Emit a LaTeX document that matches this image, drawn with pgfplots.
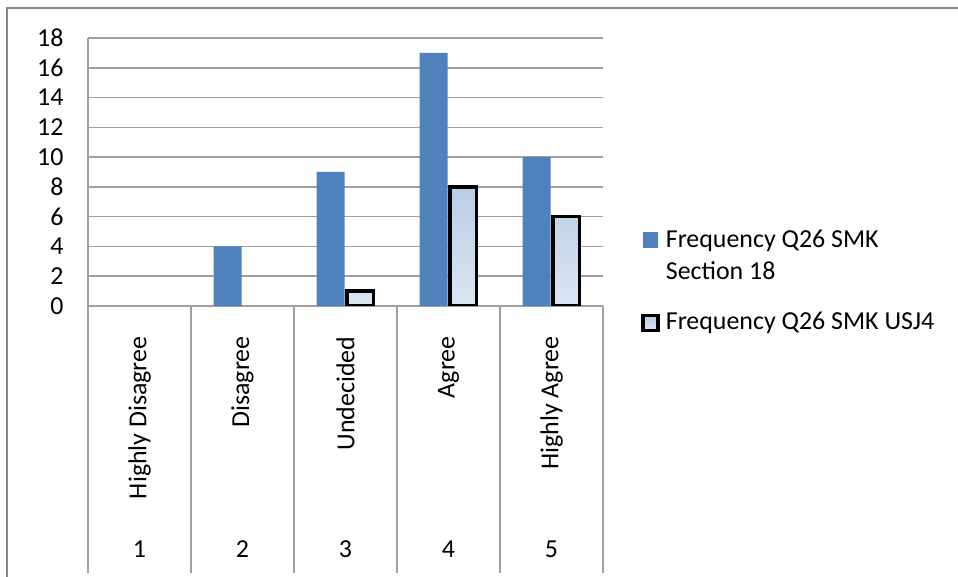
\documentclass[border=0pt]{standalone}
\usepackage{fontspec}
\setmainfont{Carlito}
\usepackage{pgfplots}
\pgfplotsset{compat=1.18}
\definecolor{barblue}{HTML}{4F81BD}
\definecolor{lighttop}{HTML}{B9CDE5}
\definecolor{lightbot}{HTML}{DCE6F2}
\definecolor{gridc}{HTML}{A0A0A0}
\definecolor{framec}{HTML}{888888}
\newcommand{\lblfont}{\fontsize{26}{32}\selectfont}
\begin{document}
\begin{tikzpicture}[x=1bp,y=1bp]
\useasboundingbox (0,0) rectangle (958,577);
\draw[framec, line width=2bp] (7,-5) -- (7,569) -- (965,569);
\begin{axis}[
  at={(88bp,271bp)}, anchor=south west,
  scale only axis, width=515bp, height=268bp,
  xmin=0.5, xmax=5.5, ymin=0, ymax=18,
  axis lines=left, axis line style={draw=gridc, line width=1.5bp, -},
  ytick={0,2,...,18},
  ymajorgrids, major grid style={draw=gridc, line width=1.5bp},
  xtick={1,...,5},
  xticklabels={Highly Disagree,Disagree,Undecided,Agree,Highly Agree},
  minor xtick={0.5,1.5,...,5.5},
  major tick length=0pt, minor tick length=267bp, tick align=outside,
  minor tick style={draw=gridc, line width=1.5bp},
  tick label style={font=\lblfont},
  /pgf/number format/assume math mode=true,
  x tick label style={rotate=90, anchor=east},
  xticklabel shift=27bp,
  yticklabel shift=21bp,
  legend style={at={(1.0745,0.3)}, anchor=north west, draw=none, fill=none,
    inner sep=0pt, outer sep=0pt, row sep=57.6bp, column sep=6bp,
    nodes={inner sep=0pt, anchor=base west, font=\lblfont}},
]
\addplot[ybar, bar width=28bp, bar shift=-15bp, fill=barblue, draw=none,
  legend image code/.code={\fill[barblue] (0bp,0bp) rectangle (15bp,16bp);}]
  coordinates {(2,4) (3,9) (4,17) (5,10)};
\addlegendentry{\begin{tabular}[t]{@{}l@{}}Frequency Q26 SMK\\Section 18\end{tabular}}
\addplot[ybar, bar width=26.5bp, bar shift=14.75bp, draw=black, line width=3.5bp,
  top color=lighttop, bottom color=lightbot,
  legend image code/.code={\draw[draw=black, line width=3.5bp, top color=lighttop, bottom color=lightbot] (0bp,-1bp) rectangle (15bp,14bp);}]
  coordinates {(3,1) (4,8) (5,6)};
\addlegendentry{\begin{tabular}[t]{@{}l@{}}Frequency Q26 SMK USJ4\end{tabular}}
\end{axis}
\begin{axis}[
  at={(88bp,271bp)}, anchor=south west,
  scale only axis, width=515bp, height=268bp,
  xmin=0.5, xmax=5.5, ymin=0, ymax=18,
  axis line style={draw=none}, ytick=\empty,
  xtick={1,...,5}, major tick length=0pt,
  tick label style={font=\lblfont},
  /pgf/number format/assume math mode=true,
  xticklabel shift=231bp,
]
\end{axis}
\end{tikzpicture}
\end{document}
